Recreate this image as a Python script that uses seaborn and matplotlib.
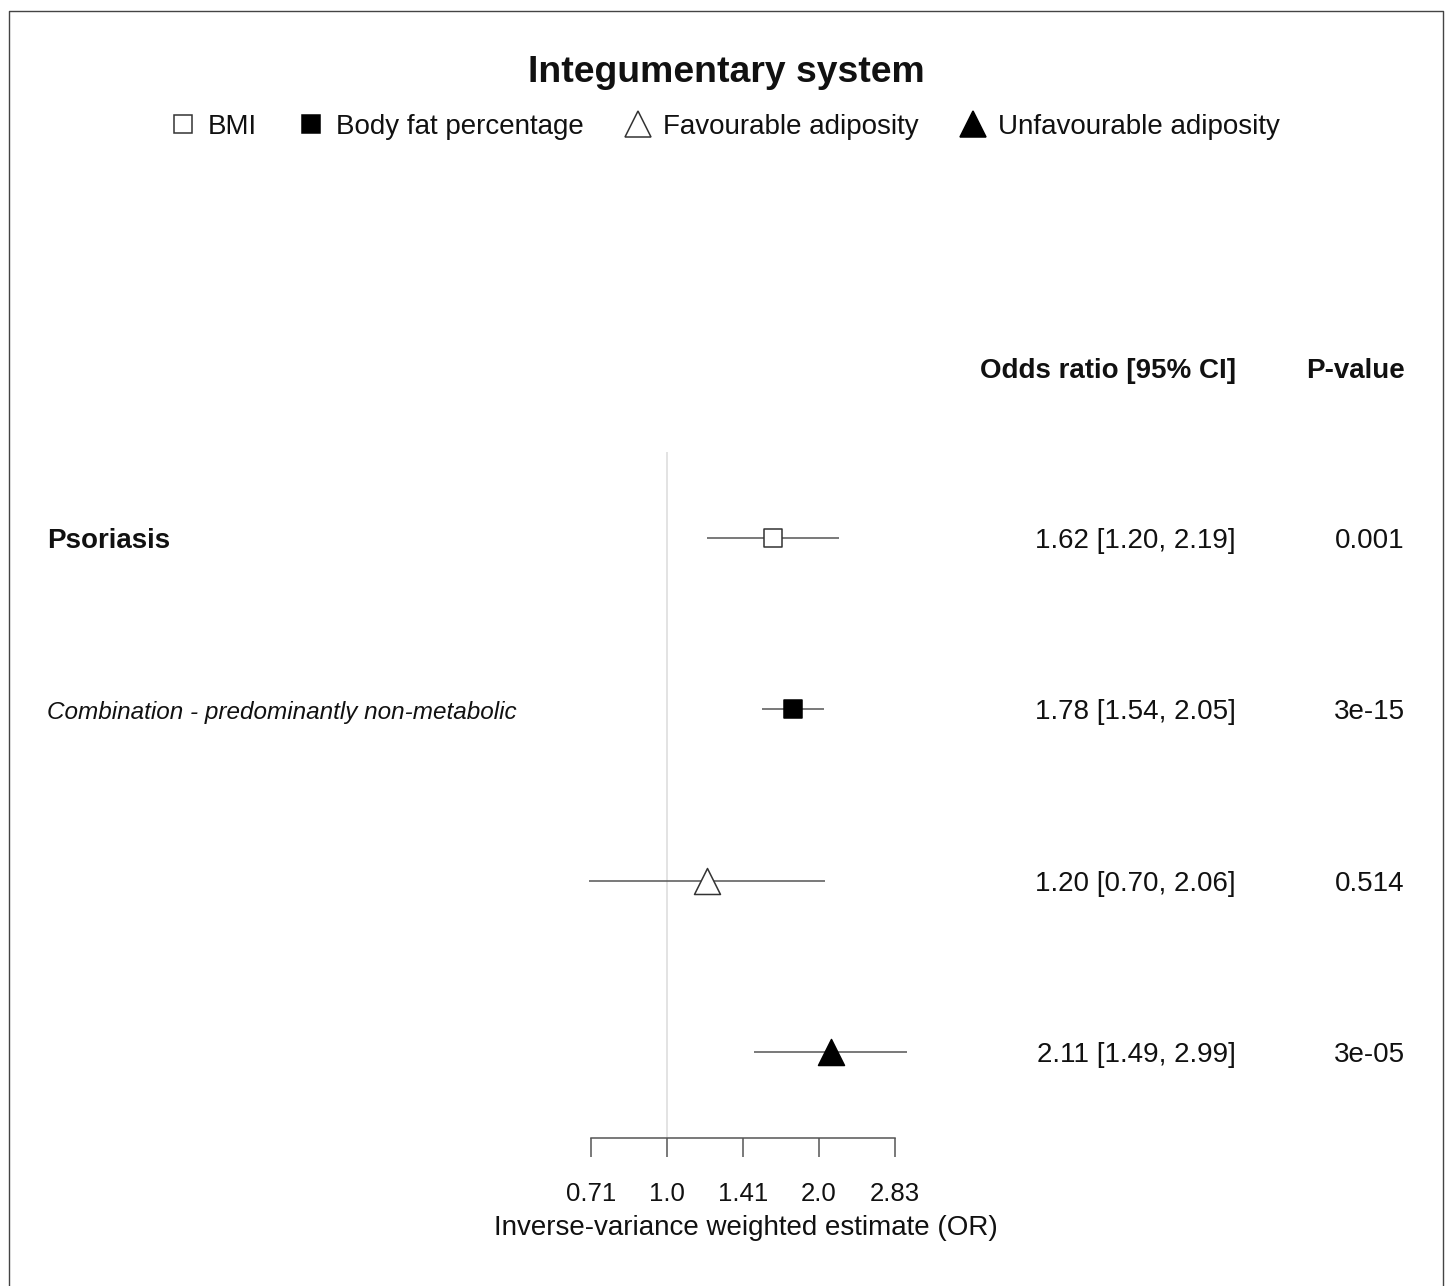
import numpy as np
import matplotlib
matplotlib.use('Agg')
import matplotlib.pyplot as plt
import matplotlib.transforms as mtransforms
from matplotlib.lines import Line2D
import seaborn as sns

# data
exposures = ['BMI', 'Body fat percentage', 'Favourable adiposity', 'Unfavourable adiposity']
odds_ratio = [1.62, 1.78, 1.20, 2.11]
ci_low = [1.20, 1.54, 0.70, 1.49]
ci_high = [2.19, 2.05, 2.06, 2.99]
p_values = ['0.001', '3e-15', '0.514', '3e-05']
outcome = 'Psoriasis'
subgroup = 'Combination - predominantly non-metabolic'
tick_exponents = [-0.5, 0, 0.5, 1, 1.5]  # log2 positions
tick_labels = ['0.71', '1.0', '1.41', '2.0', '2.83']

# marker styles per exposure
markers = ['s', 's', '^', '^']
faces = ['white', 'black', 'white', 'black']
sizes = [175, 175, 350, 350]

sns.set_theme(style='white')
plt.rcParams['font.family'] = ['Liberation Sans', 'DejaVu Sans']

W, H = 1448, 1286
fig = plt.figure(figsize=(W / 100, H / 100), dpi=100)
fig.patch.set_facecolor('white')

# forest panel (pixel layout of the reference)
ax = fig.add_axes([540 / W, 1 - 1138 / H, 420 / W, (1138 - 452) / H])
ax.set_xscale('log', base=2)
ax.set_xlim(2 ** ((540 - 667) / 152), 2 ** ((960 - 667) / 152))
rows = np.arange(len(exposures))
ax.set_ylim(len(exposures) - 0.5, -0.5)
ax.set_facecolor('none')

ax.axvline(1, color='#dedede', lw=1.2, zorder=0)
ax.hlines(rows, ci_low, ci_high, color='#555555', lw=1.1, zorder=1)
for i in range(len(exposures)):
    sns.scatterplot(x=[odds_ratio[i]], y=[rows[i]], marker=markers[i], s=sizes[i],
                    color=faces[i], edgecolor='#333333' if faces[i] == 'white' else 'black',
                    linewidth=1.1, ax=ax, zorder=3, legend=False)

for side in ['left', 'top', 'right']:
    ax.spines[side].set_visible(False)
ax.spines['bottom'].set_color('#555555')
ax.spines['bottom'].set_linewidth(1.1)
ticks = [2 ** e for e in tick_exponents]
ax.spines['bottom'].set_bounds(ticks[0], ticks[-1])
ax.set_xticks(ticks)
ax.set_xticklabels(tick_labels)
ax.xaxis.set_minor_locator(matplotlib.ticker.NullLocator())
ax.set_yticks([])
ax.tick_params(axis='x', direction='out', length=13.5, width=1.1, color='#555555',
               pad=18, labelsize=18.5, labelcolor='#111111', bottom=True)
ax.set_xlabel('Inverse-variance weighted estimate (OR)', fontsize=20, color='#111111')
ax.xaxis.set_label_coords((746 - 540) / 420, -(1228 - 1138) / 686)
ax.xaxis.label.set_verticalalignment('center')
ax.grid(False)

# text columns aligned to the rows (small downward nudge to match the reference)
nudge = mtransforms.ScaledTranslation(0, -3 / 100, fig.dpi_scale_trans)
trans = mtransforms.blended_transform_factory(fig.transFigure, ax.transData) + nudge
ax.text(47 / W, 0, outcome, transform=trans, ha='left', va='center',
        fontsize=20, weight='bold', color='#111111')
ax.text(47 / W, 1, subgroup, transform=trans, ha='left', va='center',
        fontsize=17.5, style='italic', color='#111111')
for i in range(len(exposures)):
    ax.text(1236 / W, rows[i], f'{odds_ratio[i]:.2f} [{ci_low[i]:.2f}, {ci_high[i]:.2f}]',
            transform=trans, ha='right', va='center', fontsize=20, color='#111111')
    ax.text(1405 / W, rows[i], p_values[i], transform=trans, ha='right', va='center',
            fontsize=20, color='#111111')

fig.text(1236 / W, 1 - 371 / H, 'Odds ratio [95% CI]', ha='right', va='center',
         fontsize=20, weight='bold', color='#111111')
fig.text(1405 / W, 1 - 371 / H, 'P-value', ha='right', va='center',
         fontsize=20, weight='bold', color='#111111')

fig.text(726 / W, 1 - 73 / H, 'Integumentary system', ha='center', va='center',
         fontsize=26.9, weight='bold', color='#111111')

# legend
handles = [Line2D([], [], ls='none', marker=markers[i], markersize=(sizes[i] ** 0.5),
                  markerfacecolor=faces[i], markeredgecolor='#333333' if faces[i] == 'white' else 'black',
                  markeredgewidth=1.1) for i in range(len(exposures))]
fig.legend(handles, exposures, loc='center', bbox_to_anchor=(724 / W, 1 - 127 / H),
           ncol=4, frameon=False, fontsize=20, handlelength=1.0, handletextpad=0.4,
           columnspacing=1.45, labelcolor='#111111')

# thin frame around the panel (open at the bottom, as in the reference)
fig.add_artist(Line2D([8.5 / W, 8.5 / W, 1443 / W, 1443 / W],
                      [0, 1 - 10.5 / H, 1 - 10.5 / H, 0],
                      color='#444444', lw=1.0, transform=fig.transFigure))

fig.savefig('out.png', dpi=100)
